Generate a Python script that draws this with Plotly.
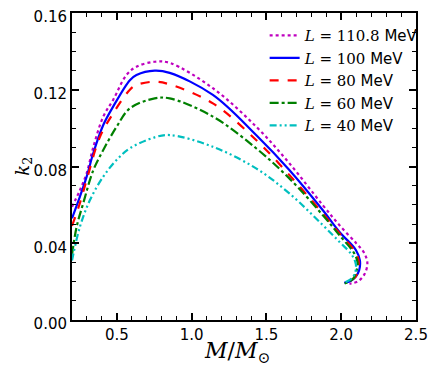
import plotly.graph_objects as go

labels = ["110.8", "100", "80", "60", "40"]
colors = ["#bf00bf", "#0000ff", "#ff0000", "#008000", "#00bfbf"]
dashes = ["dot", "solid", "dash", "dashdot", "7px,3px,2px,3px,2px,3px"]

M_110 = [0.2, 0.253, 0.298, 0.342, 0.409, 0.475, 0.564, 0.631, 0.753, 0.853, 1.142, 1.431, 1.653, 1.876, 1.987, 2.10, 2.153, 2.175, 2.153, 2.109, 2.055]
k_110 = [0.0590, 0.0677, 0.0765, 0.0900, 0.1060, 0.1147, 0.1277, 0.1320, 0.1346, 0.1340, 0.1208, 0.1008, 0.0817, 0.0599, 0.0495, 0.0400, 0.0350, 0.0295, 0.0235, 0.0200, 0.0190]

M_100 = [0.2, 0.253, 0.298, 0.342, 0.409, 0.475, 0.587, 0.631, 0.753, 0.853, 1.142, 1.431, 1.653, 1.876, 1.987, 2.098, 2.125, 2.12, 2.098, 2.065, 2.02]
k_100 = [0.0530, 0.0643, 0.0747, 0.0869, 0.1016, 0.1112, 0.1250, 0.1277, 0.1300, 0.1288, 0.1173, 0.0964, 0.0782, 0.0573, 0.0460, 0.0365, 0.0310, 0.0260, 0.0226, 0.0205, 0.0194]

M_80 = [0.2, 0.253, 0.298, 0.387, 0.475, 0.587, 0.631, 0.753, 0.853, 1.142, 1.431, 1.653, 1.876, 1.987, 2.09, 2.116, 2.11, 2.09, 2.055, 2.03]
k_80 = [0.0490, 0.0610, 0.0730, 0.0955, 0.1077, 0.1200, 0.1225, 0.1242, 0.1228, 0.1129, 0.0938, 0.0756, 0.0556, 0.0453, 0.0360, 0.0310, 0.0250, 0.0220, 0.0205, 0.0200]

M_60 = [0.2, 0.231, 0.275, 0.342, 0.409, 0.498, 0.587, 0.753, 0.853, 1.142, 1.431, 1.653, 1.876, 1.987, 2.085, 2.109, 2.10, 2.08, 2.04, 2.02]
k_60 = [0.0340, 0.0486, 0.0608, 0.0780, 0.0886, 0.1007, 0.1103, 0.1155, 0.1155, 0.1060, 0.0895, 0.0738, 0.0547, 0.0443, 0.0350, 0.0300, 0.0250, 0.0215, 0.0195, 0.0190]

M_40 = [0.2, 0.253, 0.32, 0.409, 0.498, 0.587, 0.753, 0.853, 1.142, 1.431, 1.653, 1.876, 1.987, 2.07, 2.098, 2.09, 2.06, 2.02]
k_40 = [0.0310, 0.0486, 0.0625, 0.0747, 0.0834, 0.0895, 0.0952, 0.0964, 0.0903, 0.0790, 0.0660, 0.0495, 0.0408, 0.0340, 0.0290, 0.0240, 0.0210, 0.0195]

xs = [M_110, M_100, M_80, M_60, M_40]
ys = [k_110, k_100, k_80, k_60, k_40]

SERIF = "DejaVu Serif"
fig = go.Figure()
for lab, c, d, x, y in zip(labels, colors, dashes, xs, ys):
    name = (f'<span style="font-family:{SERIF}"><i>L</i> = {lab}</span> MeV')
    fig.add_trace(go.Scatter(x=x, y=y, mode="lines", name=name,
                             line=dict(color=c, dash=d, width=2.2, shape="spline", smoothing=1.0)))

axis_common = dict(showline=True, linecolor="black", linewidth=2, mirror="allticks",
                   ticks="inside", ticklen=7, tickwidth=1.5, tickcolor="black",
                   showgrid=False, zeroline=False, automargin=False, ticklabeloverflow="allow",
                   tickfont=dict(family="DejaVu Sans", size=15, color="black"))

fig.update_xaxes(range=[0.2, 2.5], dtick=0.5, tick0=0.5, tickformat=".1f",
                 minor=dict(dtick=0.1, tick0=0.0, ticks="inside", ticklen=4, tickcolor="black", tickwidth=1.2, showgrid=False),
                 **axis_common)
fig.update_yaxes(range=[0, 0.16], dtick=0.04, tick0=0, tickformat=".2f", ticklabelshift=4,
                 minor=dict(dtick=0.01, tick0=0.0, ticks="inside", ticklen=4, tickcolor="black", tickwidth=1.2, showgrid=False),
                 **axis_common)

fig.add_annotation(text="<i>M</i>/<i>M</i><sub>⊙</sub>", xref="paper", yref="paper",
                   x=0.48, y=-0.105, xanchor="center", yanchor="middle", showarrow=False,
                   font=dict(family=SERIF, size=22, color="black"))
fig.add_annotation(text="<i>k</i><sub>2</sub>", xref="paper", yref="paper",
                   x=-0.142, y=0.50, xanchor="center", yanchor="middle", showarrow=False, textangle=-90,
                   font=dict(family=SERIF, size=18, color="black"))

# page body has an 8px default margin: size the figure so the plot area lands where the reference has it
fig.update_layout(width=428, height=367, margin=dict(l=64, r=20, t=5, b=55),
                  plot_bgcolor="white", paper_bgcolor="white",
                  legend=dict(x=0.56, y=0.98, xanchor="left", yanchor="top",
                              bgcolor="rgba(0,0,0,0)", font=dict(family="DejaVu Sans", size=15, color="black"),
                              itemwidth=30, tracegroupgap=0))
fig.write_html("out.html")
